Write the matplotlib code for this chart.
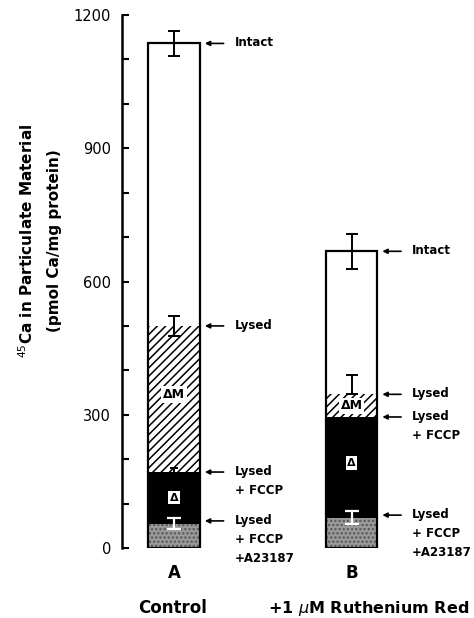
import matplotlib.pyplot as plt
from matplotlib.ticker import MultipleLocator, FuncFormatter

plt.rcParams['font.family'] = ['DejaVu Sans']
plt.rcParams['hatch.linewidth'] = 1.1

# data (pmol Ca/mg protein)
groups = ['A', 'B']
conditions = ['Control', '+1 $\\mu$M Ruthenium Red']
intact = [1136, 668]
intact_err = [29, 40]
lysed = [500, 346]
lysed_err_lo = [23, 0]
lysed_err_hi = [23, 43]
lysed_fccp = [171, 295]
fccp_err = [10, 0]
lysed_fccp_a23 = [55, 68]
a23_err = [12, 15]

xpos = [1.477, 6.52]
width = 1.477

fig = plt.figure(figsize=(4.74, 6.18), dpi=100)
ax = fig.add_axes([122 / 474, 70 / 618, 352 / 474, 533 / 618])
ax.set_xlim(0, 10)
ax.set_ylim(0, 1200)

for i, x in enumerate(xpos):
    # stacked segments, bottom to top
    ax.bar(x, lysed_fccp_a23[i], width, color='#9a9a9a', edgecolor='#555555',
           hatch='....', linewidth=0)
    ax.bar(x, lysed_fccp[i] - lysed_fccp_a23[i], width, bottom=lysed_fccp_a23[i],
           color='black', linewidth=0)
    ax.bar(x, lysed[i] - lysed_fccp[i], width, bottom=lysed_fccp[i],
           color='white', edgecolor='black', hatch='////', linewidth=0)
    ax.bar(x, intact[i], width, fill=False, edgecolor='black', linewidth=1.6)

    # error bars
    ax.errorbar(x, intact[i], yerr=intact_err[i], fmt='none', ecolor='black',
                elinewidth=1.4, capsize=4, capthick=1.4)
    ax.errorbar(x, lysed[i], yerr=[[lysed_err_lo[i]], [lysed_err_hi[i]]], fmt='none',
                ecolor='black', elinewidth=1.4, capsize=4, capthick=1.4)
    if fccp_err[i]:
        ax.errorbar(x, lysed_fccp[i], yerr=fccp_err[i], fmt='none', ecolor='black',
                    elinewidth=1.4, capsize=3, capthick=1.4)
    ax.errorbar(x, lysed_fccp_a23[i], yerr=a23_err[i], fmt='none', ecolor='white',
                elinewidth=1.6, capsize=5, capthick=1.6)

    # delta labels inside bars
    box = dict(facecolor='white', edgecolor='none', pad=1.2)
    ax.text(x, (lysed[i] + lysed_fccp[i]) / 2 + (10 if i == 0 else 0),
            '\u0394M', ha='center', va='center', fontsize=9, fontweight='bold', bbox=box)
    ax.text(x, (lysed_fccp[i] + lysed_fccp_a23[i]) / 2 + (0 if i == 0 else 10),
            '\u0394', ha='center', va='center', fontsize=8, fontweight='bold', bbox=box)

    # arrows and labels to the right
    xr = x + width / 2
    marks = [(intact[i], 'Intact'), (lysed[i], 'Lysed'),
             (lysed_fccp[i], 'Lysed\n+ FCCP'), (lysed_fccp_a23[i] + 6, 'Lysed\n+ FCCP\n+A23187')]
    for val, label in marks:
        ax.annotate('', xy=(xr, val), xytext=(17, 0), textcoords='offset points',
                    xycoords='data',
                    arrowprops=dict(arrowstyle='-|>', color='black', lw=1.2,
                                    mutation_scale=7, shrinkA=0, shrinkB=3.5))
        ax.annotate(label, xy=(xr, val), xytext=(25, 5), textcoords='offset points',
                    ha='left', va='top', fontsize=8.5, fontweight='bold', linespacing=1.6)

    ax.text(x, -56, groups[i], ha='center', va='center', fontsize=12, fontweight='bold')

fig.text(173 / 474, 1 - 608 / 618, conditions[0], ha='center', va='center',
         fontsize=12, fontweight='bold')
fig.text(369 / 474, 1 - 608 / 618, conditions[1], ha='center', va='center',
         fontsize=11.5, fontweight='bold')

# axis styling
for s in ['top', 'right', 'bottom']:
    ax.spines[s].set_visible(False)
ax.spines['left'].set_linewidth(1.8)
ax.set_xticks([])
ax.yaxis.set_major_locator(MultipleLocator(300))
ax.yaxis.set_minor_locator(MultipleLocator(100))
ax.yaxis.set_major_formatter(FuncFormatter(lambda v, p: '%d' % v))
ax.tick_params(axis='y', which='both', direction='in', length=5, width=1.5, pad=8,
               labelsize=10.5)

fig.text(27 / 474, 1 - 241 / 618, '$^{45}$Ca in Particulate Material', rotation=90,
         ha='center', va='center', fontsize=11, fontweight='bold')
fig.text(55 / 474, 1 - 241 / 618, '(pmol Ca/mg protein)', rotation=90,
         ha='center', va='center', fontsize=11, fontweight='bold')

fig.savefig('out.png', dpi=100)
